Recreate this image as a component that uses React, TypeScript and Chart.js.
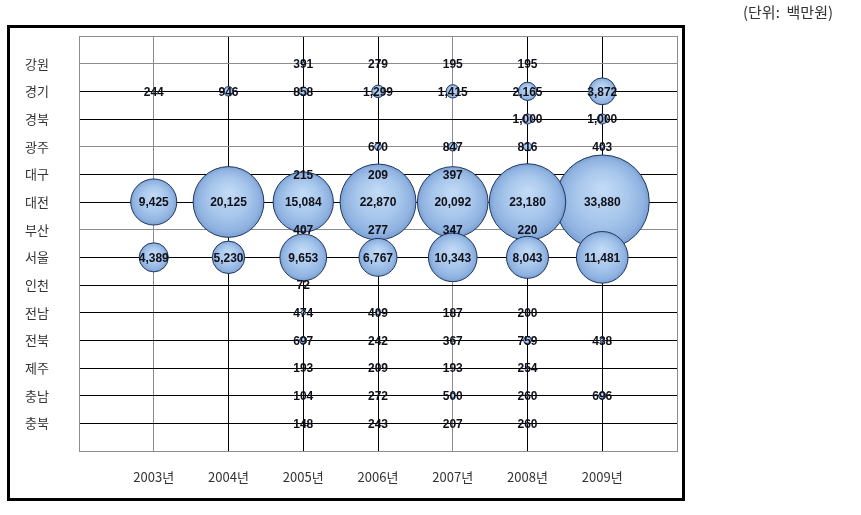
import React, { useEffect, useRef } from 'react';
import { Chart, registerables } from 'chart.js';

Chart.register(...registerables);

// ---- data ----
const regions = ['강원', '경기', '경북', '광주', '대구', '대전', '부산', '서울', '인천', '전남', '전북', '제주', '충남', '충북'];
const years = ['2003년', '2004년', '2005년', '2006년', '2007년', '2008년', '2009년'];

// values per year, in region order (null = no data)
const values2003 = [null, 244, null, null, null, 9425, null, 4389, null, null, null, null, null, null];
const values2004 = [null, 946, null, null, null, 20125, null, 5230, null, null, null, null, null, null];
const values2005 = [391, 858, null, null, 215, 15084, 407, 9653, 72, 474, 697, 193, 104, 148];
const values2006 = [279, 1299, null, 670, 209, 22870, 277, 6767, null, 409, 242, 209, 272, 243];
const values2007 = [195, 1415, null, 847, 397, 20092, 347, 10343, null, 187, 367, 193, 500, 207];
const values2008 = [195, 2165, 1000, 816, null, 23180, 220, 8043, null, 200, 759, 254, 260, 260];
const values2009 = [null, 3872, 1000, 403, null, 33880, null, 11481, null, null, 438, null, 696, null];

const valuesByYear = [values2003, values2004, values2005, values2006, values2007, values2008, values2009];

const unitLabel = '(단위:  백만원)';

// ---- styling ----
const DARK = '#000000';
const GREY = '#8c8c8c';
const xGridColors = [GREY, DARK, DARK, DARK, GREY, DARK, DARK];
const yGridColors = [GREY, DARK, DARK, GREY, DARK, DARK, GREY, DARK, DARK, DARK, DARK, DARK, DARK, DARK];

function radiusFor(v: number): number {
  return Math.max(0, 0.2756 * Math.sqrt(v) - 3.71);
}

function fmt(v: number): string {
  return String(v).replace(/\B(?=(\d{3})+(?!\d))/g, ',');
}

const datasets = valuesByYear.map((vals, yi) => ({
  label: years[yi],
  data: vals
    .map((v, ri) => (v == null ? null : { x: yi + 1, y: ri + 1, v }))
    .filter((d) => d !== null) as { x: number; y: number; v: number }[],
}));

const labelPlugin = {
  id: 'valueLabels',
  afterDatasetsDraw(chart: any) {
    const ctx = chart.ctx;
    ctx.save();
    ctx.font = 'bold 12px "Liberation Sans", Arial, sans-serif';
    ctx.fillStyle = '#101018';
    ctx.textAlign = 'center';
    ctx.textBaseline = 'middle';
    chart.data.datasets.forEach((ds: any, di: number) => {
      const meta = chart.getDatasetMeta(di);
      meta.data.forEach((el: any, i: number) => {
        const raw = ds.data[i];
        ctx.fillText(fmt(raw.v), el.x, el.y + 1);
      });
    });
    ctx.restore();
  },
};

const framePlugin = {
  id: 'frame',
  beforeDraw(chart: any) {
    const ctx = chart.ctx;
    ctx.save();
    ctx.fillStyle = '#ffffff';
    ctx.fillRect(0, 0, chart.width, chart.height);
    ctx.restore();
  },
  beforeDatasetsDraw(chart: any) {
    const { ctx, chartArea } = chart;
    ctx.save();
    ctx.strokeStyle = GREY;
    ctx.lineWidth = 1;
    ctx.strokeRect(
      Math.round(chartArea.left) + 0.5,
      Math.round(chartArea.top) + 0.5,
      Math.round(chartArea.right - chartArea.left),
      Math.round(chartArea.bottom - chartArea.top)
    );
    ctx.restore();
  },
  afterDraw(chart: any) {
    const ctx = chart.ctx;
    ctx.save();
    ctx.strokeStyle = '#000000';
    ctx.lineWidth = 3;
    ctx.strokeRect(8.5, 26.5, 675, 473);
    ctx.font = '15px "Noto Sans CJK KR", sans-serif';
    ctx.fillStyle = '#333333';
    ctx.textAlign = 'right';
    ctx.textBaseline = 'middle';
    ctx.fillText(unitLabel, 833, 12);
    ctx.restore();
  },
};

export default function App() {
  const canvasRef = useRef<HTMLCanvasElement | null>(null);

  useEffect(() => {
    if (!canvasRef.current) return;
    const chart = new Chart(canvasRef.current, {
      type: 'bubble',
      data: {
        datasets: datasets.map((ds) => ({
          ...ds,
          borderWidth: 1,
          borderColor: '#22385c',
          radius: (c: any) => (c.raw ? radiusFor(c.raw.v) : 0),
          hoverRadius: 0,
          clip: false,
          backgroundColor: (c: any) => {
            const chart = c.chart;
            const raw = c.raw;
            if (!raw || !chart.chartArea || !chart.scales.x) return '#a2c2ea';
            const x = chart.scales.x.getPixelForValue(raw.x);
            const y = chart.scales.y.getPixelForValue(raw.y);
            const r = radiusFor(raw.v);
            if (!(r > 0) || !isFinite(x) || !isFinite(y)) return '#a2c2ea';
            const g = chart.ctx.createRadialGradient(x, y - r * 0.3, 0, x, y, r);
            g.addColorStop(0, '#c3dbf6');
            g.addColorStop(0.55, '#a8c7ec');
            g.addColorStop(0.88, '#8fb2e0');
            g.addColorStop(1, '#7a9fd3');
            return g;
          },
        })) as any,
      },
      options: {
        animation: false,
        responsive: false,
        events: [],
        layout: { autoPadding: false, padding: { left: 25, top: 36, right: 184, bottom: 0 } },
        plugins: {
          legend: { display: false },
          tooltip: { enabled: false },
        },
        scales: {
          x: {
            type: 'linear',
            min: 0,
            max: 8,
            afterBuildTicks: (scale: any) => {
              scale.ticks = years.map((_, i) => ({ value: i + 1 }));
            },
            afterFit: (scale: any) => {
              scale.height = 64;
            },
            ticks: {
              callback: (v: any) => years[Number(v) - 1] ?? '',
              font: { family: '"Noto Sans CJK KR", sans-serif', size: 13 },
              color: '#333333',
              padding: 18,
              maxRotation: 0,
              autoSkip: false,
            },
            grid: {
              color: (c: any) => xGridColors[c.index] ?? DARK,
              lineWidth: 1,
              drawTicks: false,
            },
            border: { display: false },
          },
          y: {
            type: 'linear',
            min: 0,
            max: 15,
            reverse: true,
            afterBuildTicks: (scale: any) => {
              scale.ticks = regions.map((_, i) => ({ value: i + 1 }));
            },
            afterFit: (scale: any) => {
              scale.width = 54;
            },
            ticks: {
              callback: (v: any) => regions[Number(v) - 1] ?? '',
              font: { family: '"Noto Sans CJK KR", sans-serif', size: 13 },
              color: '#333333',
              crossAlign: 'far',
              autoSkip: false,
            },
            grid: {
              color: (c: any) => yGridColors[c.index] ?? DARK,
              lineWidth: 1,
              drawTicks: false,
            },
            border: { display: false },
          },
        },
      },
      plugins: [framePlugin, labelPlugin],
    });
    return () => chart.destroy();
  }, []);

  return (
    <div style={{ position: 'absolute', left: 0, top: 0, width: 861, height: 515, background: '#fff' }}>
      <canvas ref={canvasRef} width={861} height={515} style={{ display: 'block' }} />
    </div>
  );
}
